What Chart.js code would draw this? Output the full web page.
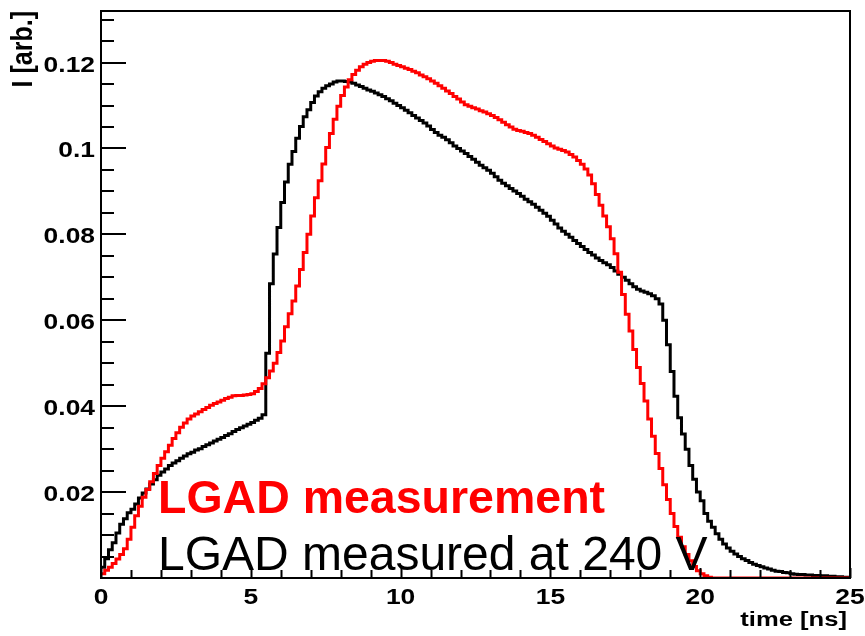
<!DOCTYPE html>
<html>
<head>
<meta charset="utf-8">
<title>LGAD current pulse</title>
<script src="https://cdn.jsdelivr.net/npm/chart.js@4.4.1/dist/chart.umd.min.js"></script>
<style>
  html, body { margin: 0; padding: 0; background: #fff; }
  #wrap { width: 865px; height: 636px; }
</style>
</head>
<body>
<div id="wrap"><canvas id="pulse" width="865" height="636"></canvas></div>
<script>
// Histogram binning of the time axis (ns)
const binWidth = 0.125;
const timeMin = 0;
const timeMax = 25;
const currentMax = 0.132;

// Measured current, one value per bin
const measuredCurrent = [
  0.0010, 0.0018, 0.0025, 0.0034, 0.0044, 0.0055, 0.0068, 0.0090, 0.0118, 0.0145,
  0.0167, 0.0188, 0.0206, 0.0224, 0.0243, 0.0262, 0.0279, 0.0294, 0.0309, 0.0325,
  0.0338, 0.0351, 0.0361, 0.0370, 0.0377, 0.0382, 0.0387, 0.0392, 0.0397, 0.0402,
  0.0406, 0.0410, 0.0414, 0.0418, 0.0421, 0.0424, 0.0425, 0.0425, 0.0426, 0.0427,
  0.0429, 0.0434, 0.0441, 0.0452, 0.0466, 0.0482, 0.0500, 0.0525, 0.0552, 0.0585,
  0.0615, 0.0645, 0.0680, 0.0718, 0.0758, 0.0800, 0.0843, 0.0885, 0.0925, 0.0964,
  0.1002, 0.1035, 0.1068, 0.1098, 0.1123, 0.1143, 0.1160, 0.1172, 0.1182, 0.1190,
  0.1196, 0.1200, 0.1203, 0.1205, 0.1205, 0.1205, 0.1203, 0.1200, 0.1196, 0.1193,
  0.1190, 0.1187, 0.1184, 0.1180, 0.1176, 0.1171, 0.1167, 0.1162, 0.1157, 0.1152,
  0.1146, 0.1140, 0.1134, 0.1128, 0.1121, 0.1115, 0.1108, 0.1102, 0.1098, 0.1095,
  0.1092, 0.1088, 0.1085, 0.1081, 0.1077, 0.1072, 0.1067, 0.1061, 0.1055, 0.1050,
  0.1045, 0.1042, 0.1040, 0.1037, 0.1035, 0.1031, 0.1026, 0.1021, 0.1016, 0.1011,
  0.1006, 0.1001, 0.0998, 0.0995, 0.0992, 0.0986, 0.0980, 0.0972, 0.0963, 0.0952,
  0.0938, 0.0918, 0.0893, 0.0868, 0.0843, 0.0818, 0.0790, 0.0755, 0.0712, 0.0660,
  0.0614, 0.0575, 0.0532, 0.0490, 0.0453, 0.0412, 0.0370, 0.0330, 0.0290, 0.0255,
  0.0217, 0.0183, 0.0150, 0.0120, 0.0095, 0.0073, 0.0055, 0.0040, 0.0027, 0.0017,
  0.0010, 0.0005, 0.0002, 0, 0, 0, 0, 0, 0, 0,
  0, 0, 0, 0, 0, 0, 0, 0, 0, 0,
  0, 0, 0, 0, 0, 0, 0, 0, 0, 0,
  0, 0, 0, 0, 0, 0, 0, 0, 0, 0
];

// Current measured at 240 V bias, one value per bin
const current240V = [
  0.0025, 0.0045, 0.0066, 0.0082, 0.0105, 0.0125, 0.0138, 0.0152, 0.0160, 0.0172,
  0.0186, 0.0198, 0.0207, 0.0219, 0.0229, 0.0239, 0.0247, 0.0254, 0.0262, 0.0268,
  0.0273, 0.0279, 0.0284, 0.0289, 0.0293, 0.0298, 0.0301, 0.0306, 0.0310, 0.0314,
  0.0319, 0.0323, 0.0327, 0.0332, 0.0336, 0.0341, 0.0346, 0.0350, 0.0354, 0.0358,
  0.0362, 0.0367, 0.0372, 0.0380, 0.0523, 0.0685, 0.0754, 0.0816, 0.0874, 0.0922,
  0.0963, 0.0993, 0.1024, 0.1051, 0.1074, 0.1090, 0.1107, 0.1122, 0.1132, 0.1140,
  0.1146, 0.1150, 0.1155, 0.1157, 0.1157, 0.1156, 0.1155, 0.1152, 0.1148, 0.1144,
  0.1140, 0.1136, 0.1133, 0.1129, 0.1125, 0.1121, 0.1116, 0.1111, 0.1105, 0.1100,
  0.1095, 0.1089, 0.1083, 0.1077, 0.1071, 0.1065, 0.1059, 0.1052, 0.1044, 0.1037,
  0.1031, 0.1026, 0.1020, 0.1013, 0.1006, 0.1000, 0.0994, 0.0988, 0.0981, 0.0975,
  0.0968, 0.0961, 0.0955, 0.0949, 0.0942, 0.0934, 0.0926, 0.0919, 0.0913, 0.0907,
  0.0901, 0.0895, 0.0889, 0.0882, 0.0876, 0.0870, 0.0863, 0.0856, 0.0849, 0.0842,
  0.0833, 0.0824, 0.0815, 0.0807, 0.0800, 0.0793, 0.0786, 0.0779, 0.0772, 0.0765,
  0.0758, 0.0752, 0.0745, 0.0739, 0.0734, 0.0729, 0.0723, 0.0715, 0.0707, 0.0700,
  0.0693, 0.0685, 0.0678, 0.0672, 0.0668, 0.0665, 0.0662, 0.0657, 0.0650, 0.0638,
  0.0600, 0.0543, 0.0481, 0.0423, 0.0373, 0.0335, 0.0300, 0.0262, 0.0230, 0.0200,
  0.0180, 0.0150, 0.0132, 0.0118, 0.0103, 0.0090, 0.0079, 0.0070, 0.0062, 0.0056,
  0.0050, 0.0045, 0.0041, 0.0036, 0.0032, 0.0029, 0.0026, 0.0023, 0.0021, 0.0018,
  0.0016, 0.0015, 0.0013, 0.0012, 0.0010, 0.0009, 0.0008, 0.0008, 0.0007, 0.0007,
  0.0006, 0.0006, 0.0005, 0.0005, 0.0004, 0.0004, 0.0003, 0.0003, 0.0002, 0.0002
];

// Axis ticks and labels
const xMajorTicks = [0, 5, 10, 15, 20, 25];
const xTickLabels = ['0', '5', '10', '15', '20', '25'];
const xMinorStep = 1;
const yMajorTicks = [0.02, 0.04, 0.06, 0.08, 0.1, 0.12];
const yTickLabels = ['0.02', '0.04', '0.06', '0.08', '0.1', '0.12'];
const yMinorStep = 0.005;
const xTitle = 'time [ns]';
const yTitle = 'I [arb.]';
const seriesLabels = ['LGAD measurement', 'LGAD measured at 240 V'];
const seriesColors = ['#ff0000', '#000000'];

const FONT = '"Liberation Sans", Arial, Helvetica, sans-serif';

// Turn a list of bin contents into step points at the bin low edges
function toSteps(values) {
    const pts = values.map((v, i) => ({ x: timeMin + i * binWidth, y: v }));
    pts.push({ x: timeMin + values.length * binWidth, y: values[values.length - 1] });
    return pts;
}

// Text stretched horizontally like the exported axis labels
function wideText(ctx, text, x, y, sx, align) {
    ctx.save();
    ctx.translate(x, y);
    ctx.scale(sx, 1);
    ctx.textAlign = align;
    ctx.textBaseline = 'alphabetic';
    ctx.fillText(text, 0, 0);
    ctx.restore();
}

// Frame, inward ticks, tick labels, titles and the text legend
const rootStyle = {
    id: 'rootStyle',
    afterDraw(chart) {
        const ctx = chart.ctx;
        const a = chart.chartArea;
        const xs = chart.scales.x;
        const ys = chart.scales.y;
        ctx.save();
        ctx.strokeStyle = '#000';
        ctx.fillStyle = '#000';

        ctx.lineWidth = 2;
        ctx.strokeRect(a.left, a.top, a.right - a.left, a.bottom - a.top);

        // x ticks pointing up from the bottom axis
        ctx.beginPath();
        for (let k = 0; k * xMinorStep <= timeMax; k++) {
            const v = k * xMinorStep;
            const px = Math.round(xs.getPixelForValue(v)) + 0.5;
            const len = xMajorTicks.includes(v) ? 10 : 8;
            ctx.moveTo(px, a.bottom);
            ctx.lineTo(px, a.bottom - len);
        }
        ctx.stroke();

        // y ticks pointing right from the left axis
        ctx.beginPath();
        for (let k = 1; k * yMinorStep <= currentMax; k++) {
            const v = k * yMinorStep;
            const py = Math.round(ys.getPixelForValue(v));
            const major = yMajorTicks.some(t => Math.abs(t - v) < 1e-9);
            ctx.moveTo(a.left, py);
            ctx.lineTo(a.left + (major ? 25 : 13), py);
        }
        ctx.stroke();

        ctx.font = 'bold 22px ' + FONT;
        xMajorTicks.forEach((v, i) => {
            wideText(ctx, xTickLabels[i], xs.getPixelForValue(v), 604, 1.2, 'center');
        });
        yMajorTicks.forEach((v, i) => {
            wideText(ctx, yTickLabels[i], 95, ys.getPixelForValue(v) + 9, 1.2, 'right');
        });

        ctx.font = 'bold 20px ' + FONT;
        wideText(ctx, xTitle, 847, 626, 1.28, 'right');

        // rotated y title, reading upwards, ending at the top of the frame
        ctx.save();
        ctx.translate(32, 11);
        ctx.rotate(-Math.PI / 2);
        ctx.scale(1, 1.15);
        ctx.font = 'bold 25px ' + FONT;
        ctx.textAlign = 'right';
        ctx.textBaseline = 'alphabetic';
        ctx.fillText(yTitle, 0, 0);
        ctx.restore();

        // legend written straight onto the plot
        ctx.textAlign = 'left';
        ctx.textBaseline = 'alphabetic';
        ctx.fillStyle = seriesColors[0];
        ctx.font = 'bold 46.5px ' + FONT;
        ctx.fillText(seriesLabels[0], 158, 513);
        ctx.fillStyle = seriesColors[1];
        ctx.font = '48px ' + FONT;
        ctx.fillText(seriesLabels[1], 158, 570);

        ctx.restore();
    }
};

const chart = new Chart(document.getElementById('pulse'), {
    type: 'line',
    data: {
        datasets: [
            {
                label: seriesLabels[0],
                data: toSteps(measuredCurrent),
                borderColor: seriesColors[0],
                borderWidth: 3,
                stepped: 'before',
                pointRadius: 0,
                fill: false
            },
            {
                label: seriesLabels[1],
                data: toSteps(current240V),
                borderColor: seriesColors[1],
                borderWidth: 3,
                stepped: 'before',
                pointRadius: 0,
                fill: false
            }
        ]
    },
    options: {
        responsive: false,
        animation: false,
        devicePixelRatio: 1,
        layout: { padding: { left: 101, right: 15, top: 11, bottom: 58 } },
        plugins: {
            legend: { display: false },
            tooltip: { enabled: false }
        },
        scales: {
            x: { type: 'linear', min: timeMin, max: timeMax, display: false },
            y: { type: 'linear', min: 0, max: currentMax, display: false }
        }
    },
    plugins: [rootStyle]
});
</script>
</body>
</html>
